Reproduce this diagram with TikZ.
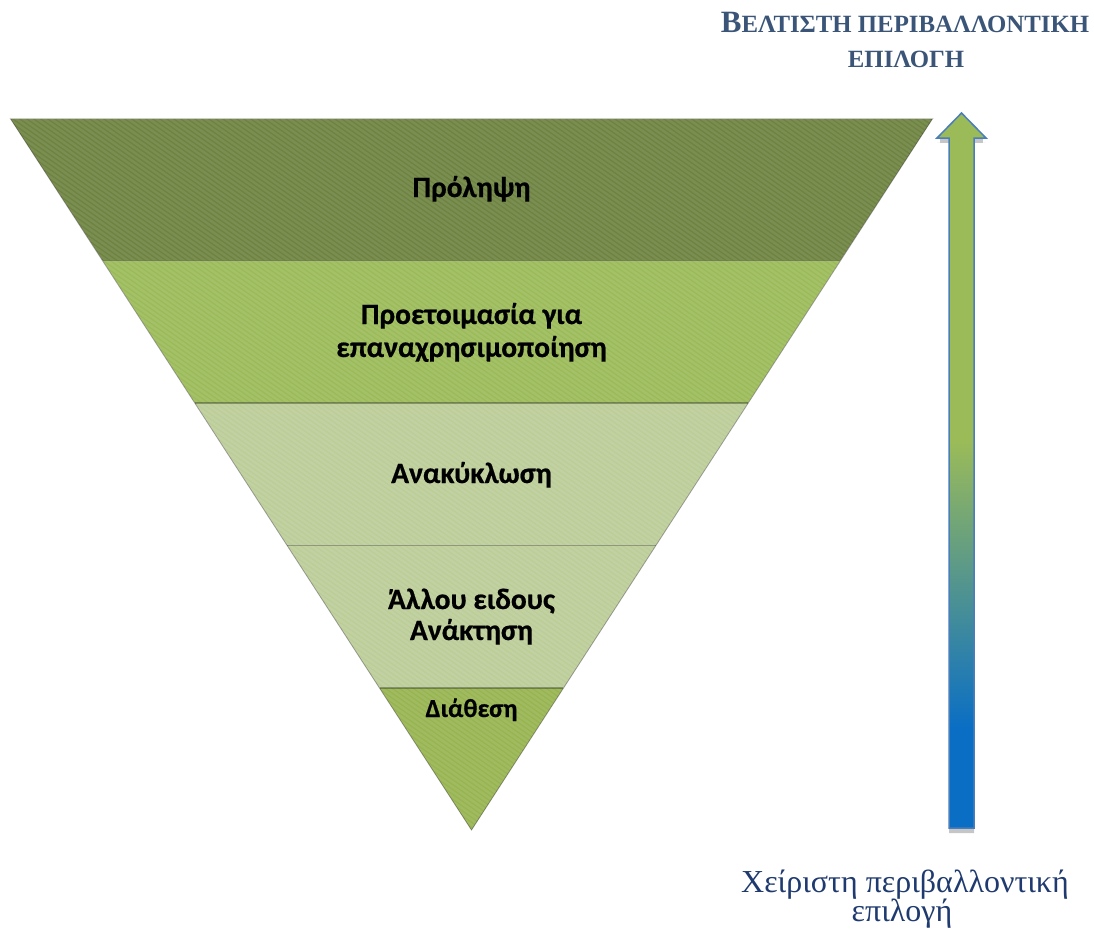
\documentclass[tikz,border=0pt]{standalone}
\usepackage{fontspec}
\setmainfont{Liberation Serif}
\newfontfamily\calib{Carlito}[BoldFeatures={FakeBold=0.6}]
\definecolor{layA}{HTML}{6E8341}
\definecolor{layB}{HTML}{9BBB59}
\definecolor{layC}{HTML}{BCCD98}
\definecolor{layE}{HTML}{97B451}
\definecolor{arrGreen}{HTML}{9BBB59}
\definecolor{arrBlue}{HTML}{0A6EC4}
\definecolor{arrLine}{HTML}{4A7EBB}
\definecolor{titleBlue}{HTML}{3A5578}
\definecolor{worstBlue}{HTML}{1F3A6E}
\pgfdeclareverticalshading{arrowshade}{100bp}{color(0bp)=(arrBlue); color(32bp)=(arrBlue); color(52bp)=(arrGreen); color(100bp)=(arrGreen)}
\tikzset{
  layertext/.style={font=\calib\bfseries\fontsize{29.5}{32}\selectfont, text=black, anchor=base, inner sep=0pt},
  smalllayertext/.style={layertext, font=\calib\bfseries\fontsize{26}{28}\selectfont},
  sepline/.style={black, opacity=0.3, line width=1.6pt},
  edgeline/.style={black, opacity=0.35, line width=0.8pt},
  stripe/.style={white, opacity=0.09, line width=2.4pt},
  titletext/.style={text=titleBlue, anchor=base, inner sep=0pt, font=\bfseries},
  worsttext/.style={text=worstBlue, anchor=base, inner sep=0pt, font=\fontsize{32}{34}\selectfont},
}
\begin{document}
\begin{tikzpicture}[x=1pt,y=-1pt]
\useasboundingbox (0,0) rectangle (1094,934);
% triangle corners
\coordinate (TL) at (10,118);
\coordinate (TR) at (933,118);
\coordinate (AP) at (471.5,830);
% layer boundary points
\coordinate (L1) at (102.7,260.5); \coordinate (R1) at (840.3,260.5);
\coordinate (L2) at (195.0,403);   \coordinate (R2) at (748.0,403);
\coordinate (L3) at (287.3,545.5); \coordinate (R3) at (655.7,545.5);
\coordinate (L4) at (379.6,688);   \coordinate (R4) at (563.4,688);
% layers
\fill[layA] (TL) -- (TR) -- (R1) -- (L1) -- cycle;
\fill[layB] (L1) -- (R1) -- (R2) -- (L2) -- cycle;
\fill[layC] (L2) -- (R2) -- (R3) -- (L3) -- cycle;
\fill[layC] (L3) -- (R3) -- (R4) -- (L4) -- cycle;
\fill[layE] (L4) -- (R4) -- (AP) -- cycle;
% texture stripes
\begin{scope}
\clip (TL) -- (TR) -- (AP) -- cycle;
\foreach \i in {-1000,-993,...,950} {
  \draw[stripe] (\i,118) -- ++(1020,714);
}
\end{scope}
% separators and edges
\draw[sepline] (L1) -- (R1);
\draw[sepline] (L2) -- (R2);
\draw[sepline] (L3) -- (R3);
\draw[sepline] (L4) -- (R4);
\draw[edgeline] (TL) -- (AP) -- (TR);
\draw[white!80!black, line width=0.6pt] (TL) -- (TR);
% layer labels
\node[layertext] (prol) at (471.5,197) {Πρόληψη};
\node[layertext] (prep1) at (471.5,324) {Προετοιμασία για};
\node[layertext] (prep2) at (471.5,357) {επαναχρησιμοποίηση};
\node[layertext] (recy) at (471.5,483) {Ανακύκλωση};
\node[layertext] (other1) at (471.5,609) {Άλλου ειδους};
\node[layertext] (other2) at (471.5,640) {Ανάκτηση};
\node[smalllayertext] (disp) at (471.5,717) {Διάθεση};
% arrow
\coordinate (tip) at (961.5,113);
\fill[gray!45] (937,142) -- (986,142) -- (974,142) -- (974,833) -- (949,833) -- (949,142) -- cycle;
\fill[gray!45] (940,138) -- (983,138) -- (983,143) -- (940,143) -- cycle;
\shade[shading=arrowshade, draw=arrLine, line width=1.5pt, line join=miter]
  (tip) -- (986,138) -- (974,138) -- (974,828) -- (949,828) -- (949,138) -- (937,138) -- cycle;
% titles
\node[titletext] (best1) at (905,33) {{\fontsize{31}{33}\selectfont Β}{\fontsize{24.8}{33}\selectfont ΕΛΤΙΣΤΗ ΠΕΡΙΒΑΛΛΟΝΤΙΚΗ}};
\node[titletext] (best2) at (906,67) {\fontsize{24.8}{33}\selectfont ΕΠΙΛΟΓΗ};
\node[worsttext] (worst1) at (905,892) {Χείριστη περιβαλλοντική};
\node[worsttext] (worst2) at (902,921) {επιλογή};
\end{tikzpicture}
\end{document}
